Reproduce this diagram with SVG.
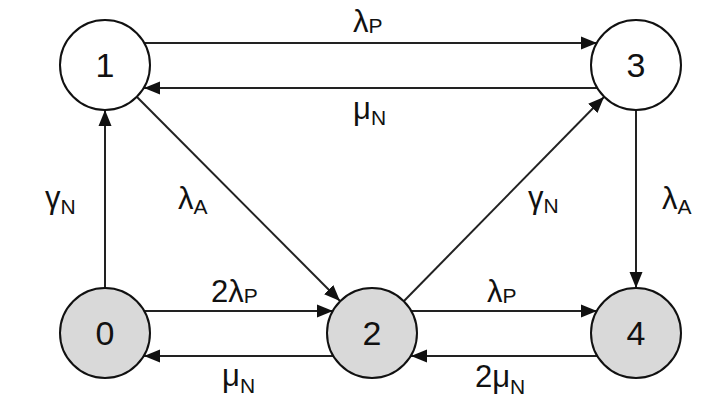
<svg xmlns="http://www.w3.org/2000/svg" width="709" height="412" viewBox="0 0 709 412">
<style>
.n{stroke:#111;stroke-width:2}
.w{fill:#fff}
.g{fill:#d9d9d9}
.d{font-family:"Liberation Sans",Arial,sans-serif;font-size:34px;fill:#111;text-anchor:middle}
.l{font-family:"Liberation Sans",Arial,sans-serif;font-size:31px;fill:#111}
.s{font-size:21px}
.e{stroke:#222;stroke-width:2;fill:none;marker-end:url(#a)}
</style>
<defs>
<marker id="a" markerUnits="userSpaceOnUse" markerWidth="18" markerHeight="14" refX="16" refY="7" orient="auto">
<path d="M0,0.5 L16,7 L0,13.5 z" fill="#111"/>
</marker>
</defs>
<rect width="709" height="412" fill="#fff"/>
<g id="edges">
<line class="e" x1="144" y1="43" x2="597" y2="43"/>
<line class="e" x1="597" y1="88" x2="144" y2="88"/>
<line class="e" x1="144" y1="311" x2="333" y2="311"/>
<line class="e" x1="333" y1="356" x2="144" y2="356"/>
<line class="e" x1="411" y1="311" x2="597" y2="311"/>
<line class="e" x1="597" y1="356" x2="411" y2="356"/>
<line class="e" x1="105" y1="288" x2="105" y2="110"/>
<line class="e" x1="636" y1="110" x2="636" y2="288"/>
<line class="e" x1="137" y1="97" x2="340" y2="301"/>
<line class="e" x1="404" y1="301" x2="604" y2="97"/>
</g>
<g id="labels">
<text class="l" x="353" y="32">λ<tspan class="s" dy="1">P</tspan></text>
<text class="l" x="353" y="119">μ<tspan class="s" dy="6">N</tspan></text>
<text class="l" x="45" y="208">γ<tspan class="s" dy="6">N</tspan></text>
<text class="l" x="178" y="209">λ<tspan class="s" dy="5">A</tspan></text>
<text class="l" x="528" y="208">γ<tspan class="s" dy="5">N</tspan></text>
<text class="l" x="662" y="209">λ<tspan class="s" dy="5">A</tspan></text>
<text class="l" x="211" y="302">2λ<tspan class="s" dy="1">P</tspan></text>
<text class="l" x="487" y="302">λ<tspan class="s" dy="1">P</tspan></text>
<text class="l" x="222" y="386">μ<tspan class="s" dy="7">N</tspan></text>
<text class="l" x="475" y="387">2μ<tspan class="s" dy="7">N</tspan></text>
</g>
<g id="node1"><circle class="n w" cx="105" cy="65" r="45"/><text class="d" x="105" y="77">1</text></g>
<g id="node3"><circle class="n w" cx="636" cy="65" r="45"/><text class="d" x="636" y="77">3</text></g>
<g id="node0"><circle class="n g" cx="105" cy="333" r="45"/><text class="d" x="105" y="345">0</text></g>
<g id="node2"><circle class="n g" cx="372" cy="333" r="45"/><text class="d" x="372" y="345">2</text></g>
<g id="node4"><circle class="n g" cx="636" cy="333" r="45"/><text class="d" x="636" y="345">4</text></g>
</svg>
